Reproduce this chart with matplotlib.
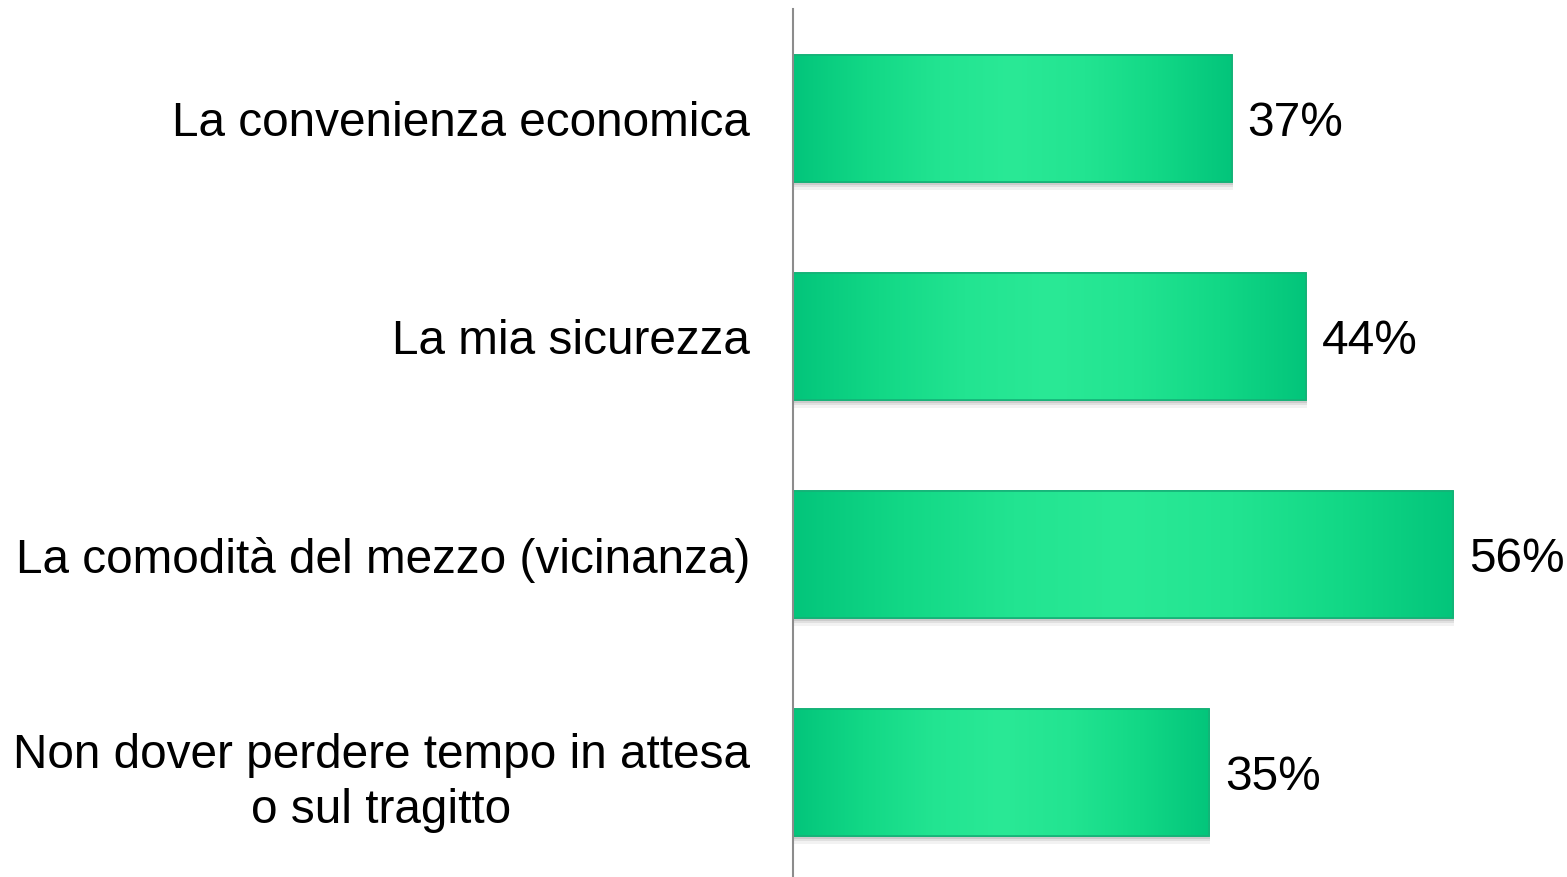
import matplotlib
matplotlib.use("Agg")
import matplotlib.pyplot as plt
import numpy as np
from matplotlib.colors import LinearSegmentedColormap

plt.rcParams['font.family'] = ['Liberation Sans', 'DejaVu Sans']

categories = [
    "La convenienza economica",
    "La mia sicurezza",
    "La comodità del mezzo (vicinanza)",
    "Non dover perdere tempo in attesa\no sul tragitto",
]
values = [37.2, 43.5, 56.0, 35.3]
value_labels = ["37%", "44%", "56%", "35%"]

W, H = 1567, 877
fig = plt.figure(figsize=(W / 100, H / 100), dpi=100)
fig.patch.set_facecolor("white")
ax = fig.add_axes([793 / W, 0, 1 - 793 / W, 1 - 9 / H])

px_per_unit = 11.79
ax.set_xlim(0, (W - 793) / px_per_unit)
ax.set_ylim(3.479, -0.502)

bar_h = 0.583
ypos = np.arange(len(categories))
FS = 34.4

cmap = LinearSegmentedColormap.from_list(
    "g", ["#03C57B", "#12D886", "#22E491", "#2AE996", "#22E491", "#12D886", "#03C57B"])
grad = np.linspace(0, 1, 256).reshape(1, -1)

bars = ax.barh(ypos, values, height=bar_h, color="#12D283",
               edgecolor="#14B277", linewidth=1.2, zorder=3)

for b in bars:
    x0, y0 = b.get_x(), b.get_y()
    w, h = b.get_width(), b.get_height()
    for k, a in [(0.035, 0.05), (0.022, 0.07), (0.012, 0.09)]:
        ax.add_patch(plt.Rectangle((x0 + 0.1, y0 + k), w, h,
                                   facecolor="#000000", alpha=a,
                                   edgecolor="none", zorder=2))
    im = ax.imshow(grad, cmap=cmap, aspect="auto",
                   extent=(x0, x0 + w, y0 + h, y0), zorder=3.5,
                   interpolation="bicubic")
    im.set_clip_path(b)
    ax.add_patch(plt.Rectangle((x0, y0), w, h, facecolor="none",
                               edgecolor="#14B277", linewidth=1.2, zorder=4))

cap_off = (FS / 72 * 100 * 0.716 / 2) / 218.0
for y, v, lab in zip(ypos, values, value_labels):
    ax.text(v + 16 / px_per_unit, y + cap_off, lab, va="baseline", ha="left",
            fontsize=FS, color="black", zorder=5)

ax.set_yticks(ypos)
ax.set_yticklabels(categories, fontsize=FS, multialignment="center",
                   linespacing=1.29)
ax.tick_params(axis="y", length=0, pad=43 * 0.72)
ax.set_xticks([])
for s in ["top", "right", "bottom"]:
    ax.spines[s].set_visible(False)
ax.spines["left"].set_color("#8C8C8C")
ax.spines["left"].set_linewidth(1.5)
ax.spines["left"].set_zorder(6)
ax.set_facecolor("none")

fig.savefig("out.png", dpi=100)
